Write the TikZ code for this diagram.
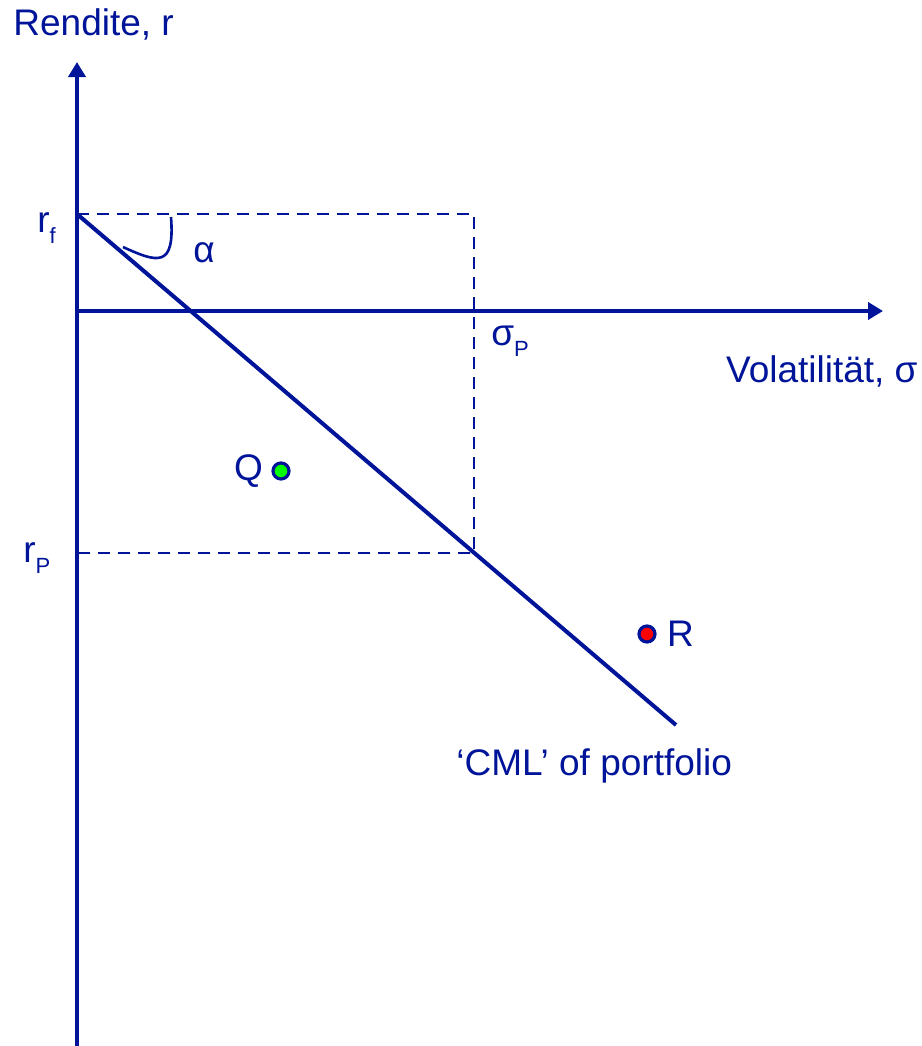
\documentclass[tikz,border=0pt]{standalone}
\usepackage{fontspec}
\setmainfont{Liberation Sans}
\usetikzlibrary{arrows.meta,positioning}
\definecolor{axisblue}{RGB}{0,20,153}
\newcommand{\lowidx}[1]{\raisebox{-0.3em}{\fontsize{11}{11}\selectfont #1}}

\begin{document}
\begin{tikzpicture}[
  x=0.5pt, y=-0.5pt,
  axis/.style={
    draw=axisblue,
    line width=2pt,
    -{Triangle[length=7.5pt,width=8.5pt]}
  },
  cml/.style={draw=axisblue, line width=2pt},
  guide/.style={draw=axisblue, line width=1.4pt, dash pattern=on 6pt off 4pt},
  lbl/.style={text=axisblue, inner sep=0pt, font=\fontsize{18.5}{21}\selectfont},
  dot/.style={circle, draw=axisblue, line width=1.6pt, minimum size=8pt, inner sep=0pt}
]
\useasboundingbox (0,0) rectangle (922,1046);

% --- PUNKTE --------------------------------------------------------
\coordinate (ybot) at (77,1046);
\coordinate (ytop) at (77,62);
\coordinate (orig) at (77,311);
\coordinate (xtip) at (883,311);
\coordinate (rf) at (77,214);
\coordinate (sigp) at (474,214);
\coordinate (tang) at (474,553);
\coordinate (rp) at (77,553);
\coordinate (cmlend) at (676,725);

% --- HILFSLINIEN ---------------------------------------------------
\draw[guide] (rf) -- (sigp) -- (tang) -- (rp);

% --- CML -----------------------------------------------------------
\draw[cml] (rf) -- (cmlend);

% --- ACHSEN --------------------------------------------------------
\draw[axis] (ybot) -- (ytop);
\draw[axis] (orig) -- (xtip);

% --- WINKEL --------------------------------------------------------
\coordinate (alstart) at (123,247);
\coordinate (alend) at (171,217);
\draw[draw=axisblue, line width=1.3pt] (alstart) .. controls (158,263) and (175,268) .. (alend);
\node[lbl, anchor=base west] (alpha) at (193,262) {α};

% --- PORTFOLIOS ----------------------------------------------------
\node[dot, fill=green] (qdot) at (281,471) {};
\node[lbl, left=4pt of qdot] (qlabel) {Q};
\node[dot, fill=red] (rdot) at (647,634) {};
\node[lbl, right=5pt of rdot] (rlabel) {R};

% --- BESCHRIFTUNGEN ------------------------------------------------
\node[lbl, anchor=base west] (ytitle) at (13,35) {Rendite, r};
\node[lbl, anchor=base east] (xtitle) at (918,382) {Volatilität, σ};
\node[lbl, anchor=base west] (rflabel) at (37,232) {r\lowidx{f}};
\node[lbl, anchor=base west] (rplabel) at (23,562) {r\lowidx{P}};
\node[lbl, anchor=base west] (sigplabel) at (491,345) {σ\lowidx{P}};
\node[lbl, anchor=base west] (cmllabel) at (456,775) {‘CML’ of portfolio};

\end{tikzpicture}
\end{document}
